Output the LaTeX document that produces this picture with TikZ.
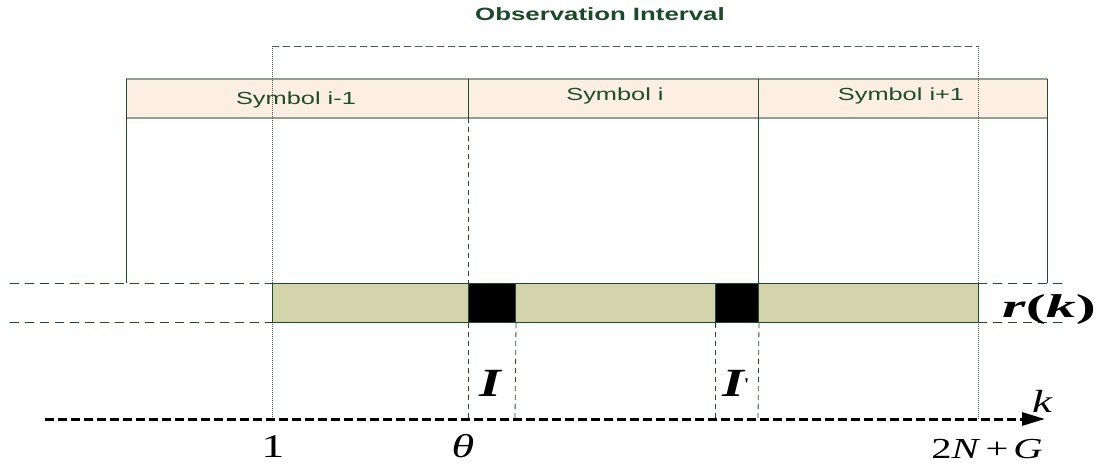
\documentclass[tikz,border=0pt]{standalone}
\usepackage{fontspec}
\usetikzlibrary{arrows.meta}
\newfontfamily\sflab[FakeStretch=1.45]{Liberation Sans}
\newfontfamily\tmlab[FakeStretch=1.4]{Liberation Serif}
\definecolor{dkgreen}{HTML}{1E4D2B}
\definecolor{titlegreen}{HTML}{1A4A28}
\definecolor{peach}{HTML}{FCEEE2}
\definecolor{olivefill}{HTML}{D3D4AC}
\definecolor{rowline}{HTML}{8FA08F}
\definecolor{obsgray}{HTML}{4A5A4E}
\tikzset{
  symtext/.style={font=\sflab\fontsize{17.5}{20}\selectfont, text=dkgreen, anchor=base, inner sep=0pt},
  mathlab/.style={font=\tmlab, text=black, anchor=base, inner sep=0pt},
  guide/.style={dkgreen, line width=0.8pt, dash pattern=on 5pt off 4pt},
  extdash/.style={dkgreen, line width=0.8pt, dash pattern=on 9pt off 6pt},
  obsline/.style={obsgray, line width=0.8pt, dash pattern=on 7pt off 4pt},
  obsdot/.style={obsgray, line width=0.8pt, dash pattern=on 1pt off 1pt},
  solidline/.style={dkgreen, line width=1pt},
  axisline/.style={black, line width=3pt, dash pattern=on 9pt off 4pt}
}
\begin{document}
\begin{tikzpicture}[x=1pt,y=-1pt]
\useasboundingbox (0,0) rectangle (1096,467);
% symbol row
\fill[peach] (126,79) rectangle (1047,118);
\draw[rowline, line width=1.3pt] (126,79) -- (1047,79);
\draw[rowline, line width=1.3pt] (126,118) -- (1047,118);
\draw[solidline] (126,79) -- (126,283);
\draw[solidline] (468,79) -- (468,118);
\draw[solidline] (758,79) -- (758,283);
\draw[solidline] (1047,79) -- (1047,283);
\node[symtext] (s1) at (296,104) {Symbol i-1};
\node[symtext] (s2) at (615,100) {Symbol i};
\node[symtext] (s3) at (901,100) {Symbol i+1};
% observation interval
\node[font=\sflab\bfseries\fontsize{17.8}{20}\selectfont, text=titlegreen, anchor=base, inner sep=0pt] (obs) at (600,20) {Observation Interval};
\draw[obsline] (272,46) -- (978,46);
\draw[obsdot] (272,46) -- (272,419);
\draw[obsdot] (978,46) -- (978,419);
% extension dashed lines
\draw[extdash] (10,283) -- (272,283);
\draw[extdash] (10,322) -- (272,322);
\draw[extdash] (978,283) -- (1064,283);
\draw[extdash] (978,322) -- (1064,322);
% r(k) bar
\node[draw=dkgreen, line width=1pt, fill=olivefill, minimum width=706pt, minimum height=39pt, inner sep=0pt, anchor=north west] (bar) at (272,283) {};
\node[draw=dkgreen, line width=1pt, fill=black, minimum width=47pt, minimum height=39pt, inner sep=0pt, anchor=north west] (blkA) at (468,283) {};
\node[draw=dkgreen, line width=1pt, fill=black, minimum width=43pt, minimum height=39pt, inner sep=0pt, anchor=north west] (blkB) at (715,283) {};
% guide lines
\draw[guide] (468,118) -- (blkA.north west);
\draw[guide] (blkA.south west) -- (468,419);
\draw[guide] (blkA.south east) -- (515,419);
\draw[guide] (blkB.south west) -- (715,419);
\draw[guide] (blkB.south east) -- (758,419);
% axis
\coordinate (axL) at (45,419);
\coordinate (axR) at (1045,419);
\draw[axisline, -{Stealth[length=23pt,width=13pt,inset=0pt]}] (axL) -- (axR);
% labels
\node[mathlab, font=\tmlab\fontsize{32}{34}\selectfont\itshape] (klab) at (1042,412) {k};
\node[mathlab, font=\tmlab\fontsize{33}{34}\selectfont] (one) at (273,457) {1};
\node[mathlab, font=\tmlab\fontsize{33}{34}\selectfont\itshape] (theta) at (463,457) {θ};
\node[mathlab, font=\tmlab\fontsize{29}{30}\selectfont] (nglab) at (987,458) {2\textit{N}\,+\,\textit{G}};
\node[mathlab, font=\tmlab\fontsize{40}{42}\selectfont\bfseries\itshape] (Ilab) at (490,396) {I};
\node[mathlab, font=\tmlab\fontsize{40}{42}\selectfont\bfseries\itshape] (Iplab) at (735,396) {I\raisebox{6pt}{\fontsize{18}{18}\selectfont\upshape\mdseries\textquotesingle}};
\node[mathlab, font=\tmlab\fontsize{33}{34}\selectfont\bfseries] (rk) at (1049,317) {\scalebox{1.3}[1]{\textit{r}(\textit{k})}};
\end{tikzpicture}
\end{document}
